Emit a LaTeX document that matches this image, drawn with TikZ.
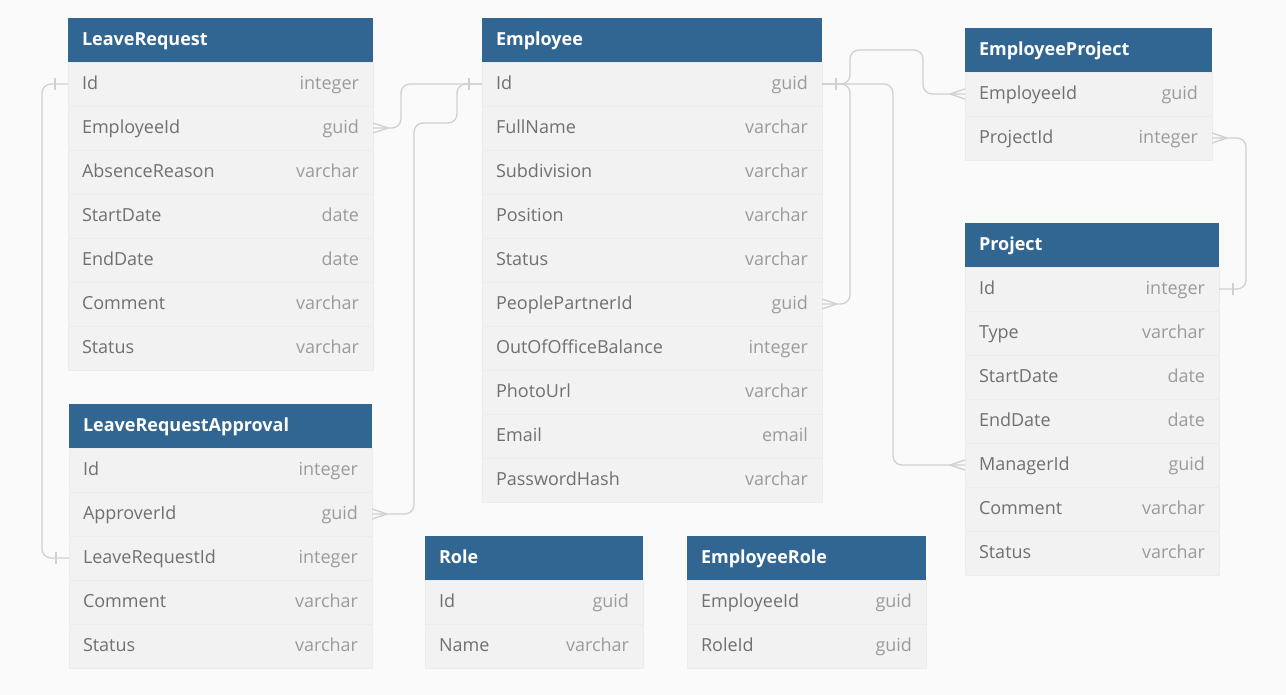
\documentclass[tikz,border=0pt]{standalone}
\usepackage{fontspec}
\setmainfont{Open Sans}
\usepackage{tikz}
\usetikzlibrary{positioning}
\definecolor{headblue}{RGB}{50,102,146}
\definecolor{rowgray}{RGB}{242,242,242}
\definecolor{rowline}{RGB}{236,236,236}
\definecolor{pagegray}{RGB}{250,250,250}
\definecolor{linkgray}{RGB}{208,208,208}
\definecolor{namegray}{RGB}{112,112,112}
\definecolor{typegray}{RGB}{155,155,155}
\newcommand{\ty}[1]{\hfill\textcolor{typegray}{#1}}
\tikzstyle{tablehead}=[rectangle, fill=headblue, text=white, font=\fontsize{18}{21}\selectfont\bfseries, minimum height=44pt, inner xsep=14pt, inner ysep=0pt, outer sep=0pt, text height=15pt, text depth=4pt]
\tikzstyle{tablerow}=[rectangle, fill=rowgray, draw=rowline, line width=0.6pt, text=namegray, font=\fontsize{18}{21}\selectfont, minimum height=44pt, inner xsep=14pt, inner ysep=0pt, outer sep=0pt, text height=15pt, text depth=4pt]
\tikzstyle{link}=[draw=linkgray, line width=1.3pt, rounded corners=9pt]
\tikzstyle{linkmark}=[draw=linkgray, line width=1.3pt]
\newcommand{\crowright}[1]{\draw[linkmark] ([shift={(15,0)}]#1) -- ([shift={(0,-5)}]#1) ([shift={(15,0)}]#1) -- ([shift={(0,5)}]#1);}
\newcommand{\crowleft}[1]{\draw[linkmark] ([shift={(-15,0)}]#1) -- ([shift={(0,-5)}]#1) ([shift={(-15,0)}]#1) -- ([shift={(0,5)}]#1);}
\newcommand{\barright}[1]{\draw[linkmark] ([shift={(14,-6)}]#1) -- ([shift={(14,6)}]#1);}
\newcommand{\barleft}[1]{\draw[linkmark] ([shift={(-13,-6)}]#1) -- ([shift={(-13,6)}]#1);}
\begin{document}
\begin{tikzpicture}[x=1pt, y=-1pt, node distance=0pt]
		\fill[pagegray] (0,0) rectangle (1286,695);
		% LeaveRequest
		\node(lr-h)[tablehead, text width=277pt, anchor=north west] at (68,18) {LeaveRequest};
		\node(lr-1)[tablerow, text width=277pt, below=of lr-h]{Id\ty{integer}};
		\node(lr-2)[tablerow, text width=277pt, below=of lr-1]{EmployeeId\ty{guid}};
		\node(lr-3)[tablerow, text width=277pt, below=of lr-2]{AbsenceReason\ty{varchar}};
		\node(lr-4)[tablerow, text width=277pt, below=of lr-3]{StartDate\ty{date}};
		\node(lr-5)[tablerow, text width=277pt, below=of lr-4]{EndDate\ty{date}};
		\node(lr-6)[tablerow, text width=277pt, below=of lr-5]{Comment\ty{varchar}};
		\node(lr-7)[tablerow, text width=277pt, below=of lr-6]{Status\ty{varchar}};
		% LeaveRequestApproval
		\node(lra-h)[tablehead, text width=275pt, anchor=north west] at (69,404) {LeaveRequestApproval};
		\node(lra-1)[tablerow, text width=275pt, below=of lra-h]{Id\ty{integer}};
		\node(lra-2)[tablerow, text width=275pt, below=of lra-1]{ApproverId\ty{guid}};
		\node(lra-3)[tablerow, text width=275pt, below=of lra-2]{LeaveRequestId\ty{integer}};
		\node(lra-4)[tablerow, text width=275pt, below=of lra-3]{Comment\ty{varchar}};
		\node(lra-5)[tablerow, text width=275pt, below=of lra-4]{Status\ty{varchar}};
		% Employee
		\node(emp-h)[tablehead, text width=312pt, anchor=north west] at (482,18) {Employee};
		\node(emp-1)[tablerow, text width=312pt, below=of emp-h]{Id\ty{guid}};
		\node(emp-2)[tablerow, text width=312pt, below=of emp-1]{FullName\ty{varchar}};
		\node(emp-3)[tablerow, text width=312pt, below=of emp-2]{Subdivision\ty{varchar}};
		\node(emp-4)[tablerow, text width=312pt, below=of emp-3]{Position\ty{varchar}};
		\node(emp-5)[tablerow, text width=312pt, below=of emp-4]{Status\ty{varchar}};
		\node(emp-6)[tablerow, text width=312pt, below=of emp-5]{PeoplePartnerId\ty{guid}};
		\node(emp-7)[tablerow, text width=312pt, below=of emp-6]{OutOfOfficeBalance\ty{integer}};
		\node(emp-8)[tablerow, text width=312pt, below=of emp-7]{PhotoUrl\ty{varchar}};
		\node(emp-9)[tablerow, text width=312pt, below=of emp-8]{Email\ty{email}};
		\node(emp-10)[tablerow, text width=312pt, below=of emp-9]{PasswordHash\ty{varchar}};
		% EmployeeProject
		\node(ep-h)[tablehead, text width=219pt, anchor=north west] at (965,28) {EmployeeProject};
		\node(ep-1)[tablerow, text width=219pt, below=of ep-h]{EmployeeId\ty{guid}};
		\node(ep-2)[tablerow, text width=219pt, below=of ep-1]{ProjectId\ty{integer}};
		% Project
		\node(pr-h)[tablehead, text width=226pt, anchor=north west] at (965,223) {Project};
		\node(pr-1)[tablerow, text width=226pt, below=of pr-h]{Id\ty{integer}};
		\node(pr-2)[tablerow, text width=226pt, below=of pr-1]{Type\ty{varchar}};
		\node(pr-3)[tablerow, text width=226pt, below=of pr-2]{StartDate\ty{date}};
		\node(pr-4)[tablerow, text width=226pt, below=of pr-3]{EndDate\ty{date}};
		\node(pr-5)[tablerow, text width=226pt, below=of pr-4]{ManagerId\ty{guid}};
		\node(pr-6)[tablerow, text width=226pt, below=of pr-5]{Comment\ty{varchar}};
		\node(pr-7)[tablerow, text width=226pt, below=of pr-6]{Status\ty{varchar}};
		% Role
		\node(role-h)[tablehead, text width=190pt, anchor=north west] at (425,536) {Role};
		\node(role-1)[tablerow, text width=190pt, below=of role-h]{Id\ty{guid}};
		\node(role-2)[tablerow, text width=190pt, below=of role-1]{Name\ty{varchar}};
		% EmployeeRole
		\node(er-h)[tablehead, text width=211pt, anchor=north west] at (687,536) {EmployeeRole};
		\node(er-1)[tablerow, text width=211pt, below=of er-h]{EmployeeId\ty{guid}};
		\node(er-2)[tablerow, text width=211pt, below=of er-1]{RoleId\ty{guid}};
		
		% links
		\draw[link](lr-2.east) -- ++(28,0) |- (emp-1.west);
		\draw[link](lra-2.east) -- ++(42,0) |- ([shift={(-25,39)}]emp-1.west) |- (emp-1.west);
		\draw[link](emp-1.east) -- ++(28,0) |- ([shift={(-42,-44)}]ep-1.west) |- (ep-1.west);
		\draw[link](emp-6.east) -- ++(28,0) |- (emp-1.east);
		\draw[link](emp-1.east) -- ++(71,0) |- (pr-5.west);
		\draw[link](ep-2.east) -- ++(34,0) |- (pr-1.east);
		\draw[link](lr-1.west) -- ++(-26,0) |- (lra-3.west);
		\crowright{lr-2.east}
		\crowright{lra-2.east}
		\crowright{emp-6.east}
		\crowright{ep-2.east}
		\crowleft{ep-1.west}
		\crowleft{pr-5.west}
		\barleft{emp-1.west}
		\barright{emp-1.east}
		\barright{pr-1.east}
		\barleft{lr-1.west}
		\barleft{lra-3.west}
	\end{tikzpicture}
\end{document}
